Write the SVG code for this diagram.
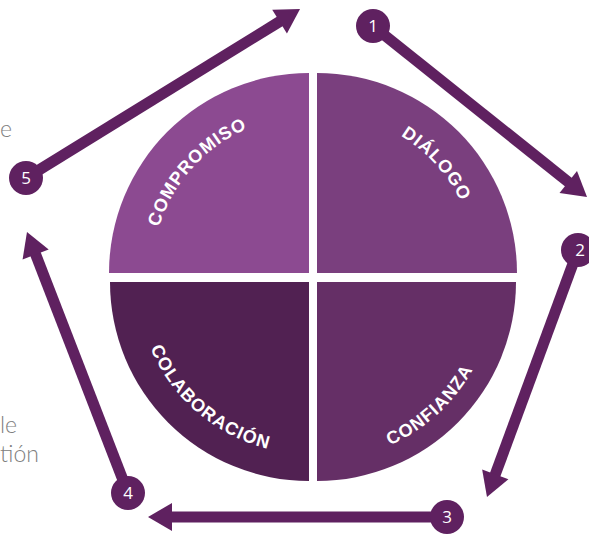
<svg xmlns="http://www.w3.org/2000/svg" width="589" height="538" viewBox="0 0 589 538">
  <style>
    .q-label { font-family: "Liberation Sans", Arial, sans-serif; font-weight: bold; font-size: 18px; letter-spacing: 1px; fill: #ffffff; }
    .num { font-family: "Open Sans", "Liberation Sans", sans-serif; font-size: 17px; fill: #ffffff; text-anchor: middle; }
    .shaft { stroke: #5f2160; stroke-width: 11; fill: none; marker-end: url(#head); }
    .badge { fill: #5f2160; }
    .side { font-family: Lato, "Open Sans", sans-serif; font-weight: 300; font-size: 23px; fill: #808080; }
  </style>
  <defs>
    <marker id="head" markerUnits="userSpaceOnUse" markerWidth="30" markerHeight="30" viewBox="0 0 30 30" refX="6" refY="15" orient="auto">
      <path d="M2,1 L26,15 L2,29 Z" fill="#5f2160"/>
    </marker>
    <!-- baselines for the curved quadrant labels -->
    <path id="arc-compromiso" d="M185.3,369.7 A157,157 0 0 1 392.2,139.9"/>
    <path id="arc-dialogo" d="M230.7,137.1 A161,161 0 0 1 444.5,371.2"/>
    <path id="arc-confianza" d="M208,424 A179,179 0 0 0 467.9,185.8"/>
    <path id="arc-colaboracion" d="M161.3,195 A171.3,171.3 0 0 0 418,414.2"/>
  </defs>

  <!-- partially visible side text -->
  <text class="side" x="0" y="137">e</text>
  <text class="side" x="0" y="433">le</text>
  <text class="side" x="0" y="462">tión</text>

  <!-- four quadrants of the circle -->
  <g id="compromiso">
    <path d="M309,273 L109,273 A200,200 0 0 1 309,73 Z" fill="#8c4a91"/>
    <text class="q-label"><textPath href="#arc-compromiso" startOffset="50%" text-anchor="middle">COMPROMISO</textPath></text>
  </g>
  <g id="dialogo">
    <path d="M317,273 L317,73 A200,200 0 0 1 517,273 Z" fill="#7a3f7e"/>
    <text class="q-label"><textPath href="#arc-dialogo" startOffset="50%" text-anchor="middle">DIÁLOGO</textPath></text>
  </g>
  <g id="colaboracion">
    <path d="M309,282 L309,481 A199,199 0 0 1 110,282 Z" fill="#512152"/>
    <text class="q-label"><textPath href="#arc-colaboracion" startOffset="50%" text-anchor="middle">COLABORACIÓN</textPath></text>
  </g>
  <g id="confianza">
    <path d="M317,282 L516,282 A199,199 0 0 1 317,481 Z" fill="#652f66"/>
    <text class="q-label"><textPath href="#arc-confianza" startOffset="50%" text-anchor="middle">CONFIANZA</textPath></text>
  </g>

  <!-- cycle arrows -->
  <g id="connectors">
    <line class="shaft" x1="373" y1="26" x2="571.4" y2="184.5"/>
    <line class="shaft" x1="578" y1="250" x2="493.9" y2="478.2"/>
    <line class="shaft" x1="447" y1="517" x2="168" y2="517"/>
    <line class="shaft" x1="128" y1="493" x2="34.2" y2="250.7"/>
    <line class="shaft" x1="26" y1="178" x2="283" y2="19.5"/>
  </g>

  <!-- numbered step badges -->
  <g id="step-1"><circle class="badge" cx="373" cy="26" r="17"/><text class="num" x="373" y="32">1</text></g>
  <g id="step-2"><circle class="badge" cx="578" cy="250" r="17"/><text class="num" x="580" y="256">2</text></g>
  <g id="step-3"><circle class="badge" cx="447" cy="517" r="17"/><text class="num" x="447" y="523">3</text></g>
  <g id="step-4"><circle class="badge" cx="128" cy="493" r="17"/><text class="num" x="128" y="499">4</text></g>
  <g id="step-5"><circle class="badge" cx="26" cy="178" r="17"/><text class="num" x="26" y="184">5</text></g>
</svg>
